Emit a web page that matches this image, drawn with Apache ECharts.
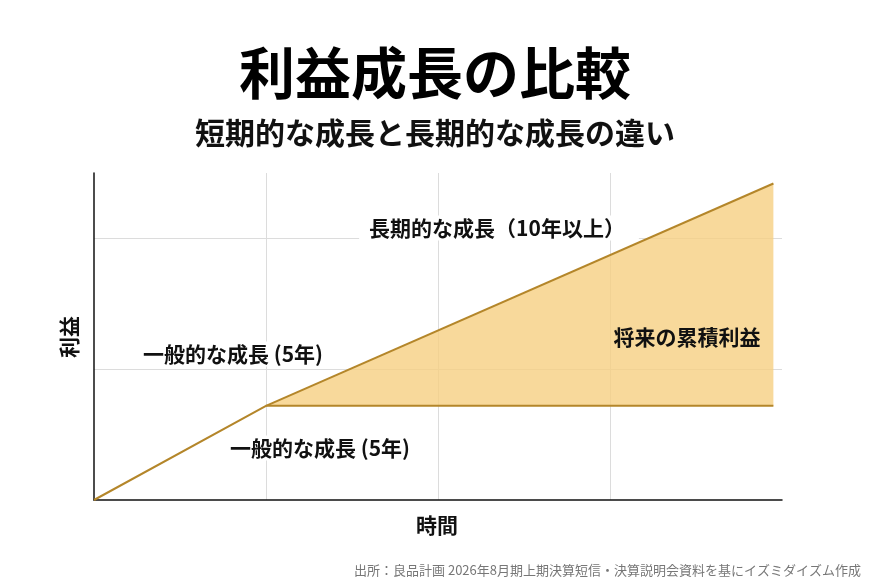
<!DOCTYPE html>
<html>
<head>
<meta charset="utf-8">
<script src="https://cdn.jsdelivr.net/npm/echarts@6/dist/echarts.min.js"></script>
<style>
html,body{margin:0;padding:0;background:#fff;}
#chart{width:870px;height:583px;}
</style>
</head>
<body>
<div id="chart"></div>
<script>
// Data (x = time, y = profit; unitless schematic)
const shortTermX = [0, 1, 3.95];
const shortTermY = [0, 0.72, 0.72];
const longTermX = [1, 3.95];
const longTermY = [0.72, 2.42];
const plateauLevel = 0.72;

const titleText = '利益成長の比較';
const subtitleText = '短期的な成長と長期的な成長の違い';
const yName = '利益';
const xName = '時間';
const labelLong = '長期的な成長（10年以上）';
const labelShortUpper = '一般的な成長 (5年)';
const labelShortLower = '一般的な成長 (5年)';
const labelArea = '将来の累積利益';
const sourceText = '出所：良品計画 2026年8月期上期決算短信・決算説明会資料を基にイズミダイズム作成';

const FONT = '"Noto Sans CJK JP", "Noto Sans", sans-serif';
const lineColor = '#B4862A';
const fillColor = 'rgba(246, 207, 130, 0.8)';

const chart = echarts.init(document.getElementById('chart'), null, {renderer: 'canvas'});

const zip = (xs, ys) => xs.map((x, i) => [x, ys[i]]);

function txt(text, size, weight, extra) {
  return Object.assign({
    text: text, fontFamily: FONT, fontSize: size, fontWeight: weight,
    fill: '#111', align: 'center', verticalAlign: 'middle'
  }, extra || {});
}

chart.setOption({
  backgroundColor: '#fff',
  animation: false,
  title: [
    {text: titleText, left: 'center', top: 40,
     textStyle: {fontFamily: FONT, fontSize: 56, fontWeight: 'bold', color: '#000'}},
    {text: subtitleText, left: 'center', top: 113,
     textStyle: {fontFamily: FONT, fontSize: 30, fontWeight: 'bold', color: '#111'}}
  ],
  grid: {left: 94, right: 88, top: 173, bottom: 83, containLabel: false},
  xAxis: {
    type: 'value', min: 0, max: 4, interval: 1,
    axisLine: {show: true, onZero: false, lineStyle: {color: '#111', width: 1.5}},
    axisTick: {show: false}, axisLabel: {show: false},
    splitLine: {show: true, showMinLine: false, showMaxLine: false, lineStyle: {color: '#dcdcdc', width: 1}}
  },
  yAxis: {
    type: 'value', min: 0, max: 2.5, interval: 1,
    axisLine: {show: true, onZero: false, lineStyle: {color: '#111', width: 1.5}},
    axisTick: {show: false}, axisLabel: {show: false},
    splitLine: {show: true, showMinLine: false, showMaxLine: false, lineStyle: {color: '#dcdcdc', width: 1}}
  },
  series: [
    {
      type: 'line', name: 'long', data: zip(longTermX, longTermY),
      symbol: 'none', z: 2,
      lineStyle: {color: lineColor, width: 2},
      areaStyle: {color: fillColor, origin: plateauLevel, opacity: 1}
    },
    {
      type: 'line', name: 'short', data: zip(shortTermX, shortTermY),
      symbol: 'none', z: 3,
      lineStyle: {color: lineColor, width: 2}
    }
  ],
  graphic: [
    {type: 'text', x: 69, y: 337, rotation: Math.PI / 2, z: 10,
     style: txt(yName, 21, 'bold')},
    {type: 'text', x: 437, y: 525, z: 10,
     style: txt(xName, 21, 'bold')},
    {type: 'text', x: 499, y: 228, z: 1,
     style: txt(labelLong, 21, 'bold', {backgroundColor: '#fff', padding: [2, 14, 2, 10]})},
    {type: 'text', x: 233, y: 354, z: 10,
     style: txt(labelShortUpper, 21, 'bold', {backgroundColor: '#fff', padding: [2, 8]})},
    {type: 'text', x: 320, y: 448, z: 10,
     style: txt(labelShortLower, 21, 'bold', {backgroundColor: '#fff', padding: [2, 8]})},
    {type: 'text', x: 687, y: 337, z: 10,
     style: txt(labelArea, 21, 'bold')},
    {type: 'text', x: 861, y: 570, z: 10,
     style: txt(sourceText, 13, 'normal', {fill: '#777', align: 'right'})}
  ]
});
</script>
</body>
</html>
